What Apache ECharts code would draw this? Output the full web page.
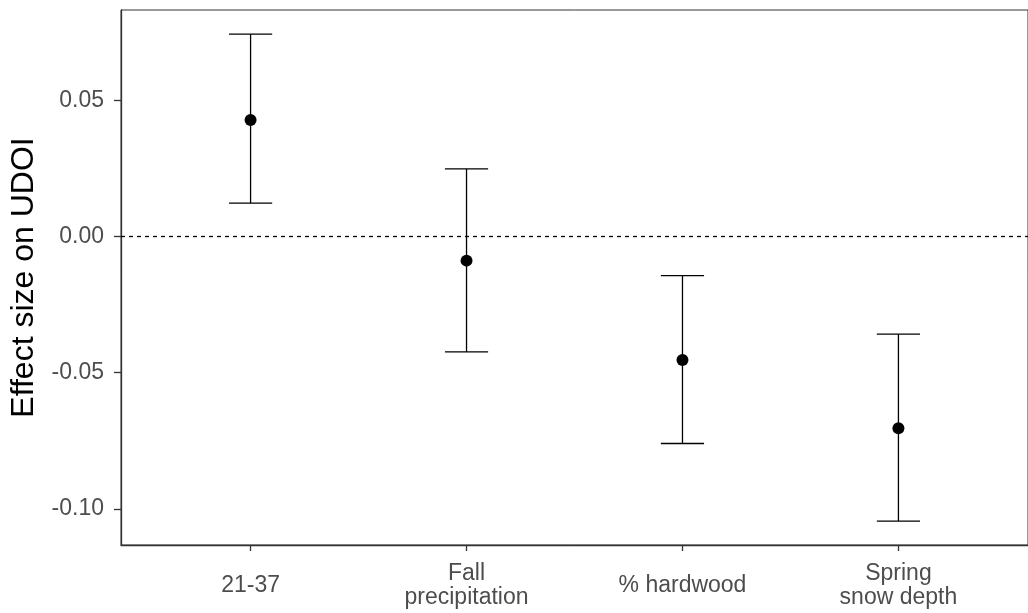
<!DOCTYPE html>
<html>
<head>
<meta charset="utf-8">
<script src="https://cdn.jsdelivr.net/npm/echarts@6/dist/echarts.min.js"></script>
<style>
  html, body { margin: 0; padding: 0; background: #fff; }
  #chart { width: 1028px; height: 613px; }
</style>
</head>
<body>
<div id="chart"></div>
<script>
// predictors on the x axis, positions 1..4
const categories = ['21-37', 'Fall\nprecipitation', '% hardwood', 'Spring\nsnow depth'];
const positions = [1, 2, 3, 4];
// effect estimates and interval ends
const estimates = [0.0429, -0.0088, -0.0453, -0.0704];
const lower = [0.0123, -0.0423, -0.0760, -0.1045];
const upper = [0.0744, 0.0249, -0.0143, -0.0358];
const yTicks = [-0.10, -0.05, 0, 0.05];

const chart = echarts.init(document.getElementById('chart'));

const axisColor = '#333333';
const labelColor = '#4d4d4d';
const font = 'Liberation Sans, Arial, sans-serif';

const option = {
  animation: false,
  grid: {
    left: 121,
    top: 10,
    right: -12,
    bottom: 68,
    show: true,
    borderColor: axisColor,
    borderWidth: 1,
    backgroundColor: 'transparent'
  },
  xAxis: {
    type: 'value',
    min: 0.4,
    max: 4.6,
    splitLine: { show: false },
    axisLine: { show: true, onZero: false, lineStyle: { color: axisColor, width: 1.3 } },
    axisTick: { show: true, length: 6, customValues: positions, lineStyle: { color: axisColor, width: 1.3 } },
    axisLabel: {
      customValues: positions,
      formatter: v => categories[Math.round(v) - 1],
      color: labelColor,
      fontFamily: font,
      fontSize: 23,
      lineHeight: 24,
      verticalAlign: 'middle',
      margin: 41
    }
  },
  yAxis: {
    type: 'value',
    min: -0.1133,
    max: 0.0833,
    splitLine: { show: false },
    axisLine: { show: true, onZero: false, lineStyle: { color: axisColor, width: 1.3 } },
    axisTick: { show: true, length: 7, customValues: yTicks, lineStyle: { color: axisColor, width: 1.3 } },
    axisLabel: {
      customValues: yTicks,
      formatter: v => v.toFixed(2),
      color: labelColor,
      fontFamily: font,
      fontSize: 23,
      margin: 17
    },
    name: 'Effect size on UDOI',
    nameLocation: 'middle',
    nameGap: 81,
    nameTextStyle: { color: '#000', fontFamily: font, fontSize: 32 }
  },
  series: [
    {
      type: 'custom',
      data: positions.map((p, i) => [p, lower[i], upper[i]]),
      renderItem: (params, api) => {
        const x = api.value(0);
        const lo = api.coord([x, api.value(1)]);
        const hi = api.coord([x, api.value(2)]);
        const half = api.size([0.2, 0])[0] / 2;
        const style = { stroke: '#000', lineWidth: 1.3 };
        return {
          type: 'group',
          children: [
            { type: 'line', shape: { x1: lo[0], y1: lo[1], x2: hi[0], y2: hi[1] }, style },
            { type: 'line', shape: { x1: hi[0] - half, y1: hi[1], x2: hi[0] + half, y2: hi[1] }, style },
            { type: 'line', shape: { x1: lo[0] - half, y1: lo[1], x2: lo[0] + half, y2: lo[1] }, style }
          ]
        };
      },
      markLine: {
        silent: true,
        symbol: 'none',
        label: { show: false },
        lineStyle: { color: '#000', type: [4, 4], width: 1.3, opacity: 1 },
        data: [{ yAxis: 0 }]
      },
      z: 2
    },
    {
      type: 'scatter',
      data: positions.map((p, i) => [p, estimates[i]]),
      symbol: 'circle',
      symbolSize: 12,
      itemStyle: { color: '#000', opacity: 1 },
      z: 3
    }
  ]
};

chart.setOption(option);
</script>
</body>
</html>
